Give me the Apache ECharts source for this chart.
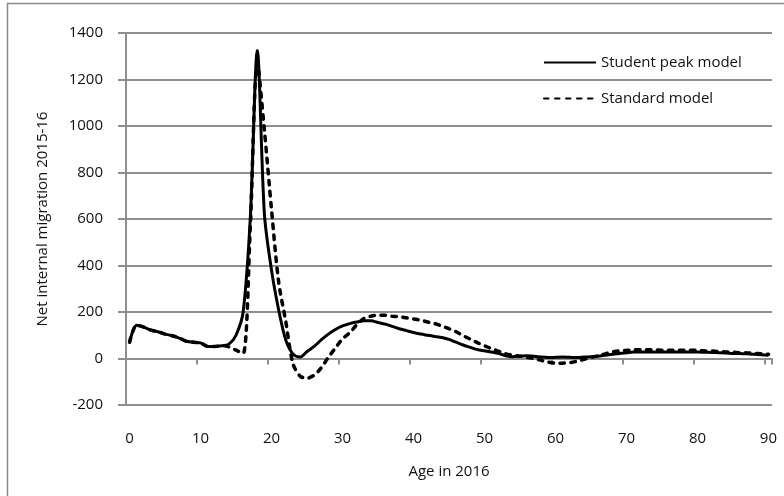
<!DOCTYPE html>
<html>
<head>
<meta charset="utf-8">
<script src="https://cdn.jsdelivr.net/npm/echarts@6/dist/echarts.min.js"></script>
<style>
  html, body { margin: 0; padding: 0; background: #fff; }
  #chart { width: 784px; height: 496px; }
</style>
</head>
<body>
<div id="chart"></div>
<script>
// ages 0..90
var ages = [];
for (var a = 0; a <= 90; a++) ages.push(String(a));

// net internal migration
var studentPeak = [
  70, 143, 135, 122, 115, 105, 98, 88, 74, 70,
  67, 52, 52, 55, 62, 100, 200, 600, 1325, 620,
  380, 210, 80, 20, 6, 30, 52, 80, 105, 125,
  140, 150, 157, 162, 162, 155, 148, 138, 128, 120,
  112, 105, 100, 95, 90, 82, 70, 58, 48, 38,
  33, 28, 22, 12, 8, 10, 12, 10, 6, 4,
  5, 6, 5, 4, 6, 8, 10, 14, 18, 22,
  25, 28, 28, 28, 28, 28, 28, 28, 28, 28,
  28, 27, 26, 25, 24, 22, 21, 20, 18, 16,
  14
];
var standard = [
  70, 143, 135, 122, 115, 105, 98, 88, 74, 70,
  67, 52, 52, 55, 50, 36, 22, 560, 1270, 980,
  640, 330, 160, -20, -75, -85, -72, -40, 5, 45,
  85, 110, 145, 172, 182, 186, 186, 182, 180, 175,
  170, 165, 157, 150, 140, 128, 115, 98, 83, 68,
  55, 42, 31, 20, 14, 10, 5, 0, -8, -16,
  -20, -20, -18, -12, -4, 4, 12, 20, 28, 33,
  35, 37, 38, 38, 37, 36, 35, 35, 35, 35,
  35, 33, 32, 30, 28, 27, 25, 24, 22, 20,
  18
];

var font = 'Open Sans';
var gridColor = '#8f8f8f';

var chart = echarts.init(document.getElementById('chart'), null, {renderer: 'canvas'});
chart.setOption({
  animation: false,
  backgroundColor: '#fff',
  textStyle: {fontFamily: font, color: '#111'},
  graphic: [{
    type: 'rect',
    shape: {x: 7.5, y: 3.5, width: 800, height: 600},
    style: {fill: null, stroke: '#8a8a8a', lineWidth: 1.5},
    silent: true
  }],
  grid: {left: 126, right: 12, top: 33, bottom: 91, containLabel: false, outerBoundsMode: 'none'},
  legend: {
    orient: 'vertical',
    left: 538,
    top: 50,
    itemWidth: 52,
    itemHeight: 14,
    itemGap: 21,
    itemStyle: {opacity: 0, borderWidth: 0},
    textStyle: {fontFamily: font, fontSize: 15, color: '#111'},
    data: ['Student peak model', 'Standard model']
  },
  xAxis: {
    type: 'category',
    data: ages,
    boundaryGap: true,
    name: 'Age in 2016',
    nameLocation: 'middle',
    nameGap: 59,
    nameTextStyle: {fontFamily: font, fontSize: 15, color: '#111'},
    axisLine: {onZero: true, lineStyle: {color: gridColor, width: 2}},
    axisTick: {show: true, interval: 9, length: 6, lineStyle: {color: gridColor, width: 2}},
    axisLabel: {interval: 9, margin: 26, fontFamily: font, fontSize: 15, color: '#111'},
    splitLine: {show: false}
  },
  yAxis: {
    type: 'value',
    min: -200,
    max: 1400,
    interval: 200,
    name: 'Net internal migration 2015-16',
    nameLocation: 'middle',
    nameGap: 76,
    nameTextStyle: {fontFamily: font, fontSize: 15, color: '#111'},
    axisLine: {show: true, lineStyle: {color: gridColor, width: 2}},
    axisTick: {show: true, length: 8, lineStyle: {color: gridColor, width: 2}},
    axisLabel: {
      margin: 23, fontFamily: font, fontSize: 15, color: '#111',
      formatter: function (v) { return String(v); }
    },
    splitLine: {show: true, lineStyle: {color: gridColor, width: 2}}
  },
  series: [{
    name: 'Student peak model',
    type: 'line',
    data: studentPeak,
    symbol: 'none',
    showSymbol: false,
    smooth: 0.3,
    lineStyle: {color: '#000', width: 3},
    itemStyle: {color: '#000'},
    z: 3
  }, {
    name: 'Standard model',
    type: 'line',
    data: standard,
    symbol: 'none',
    showSymbol: false,
    smooth: 0.3,
    lineStyle: {color: '#000', width: 3.5, type: [4.5, 6.5], cap: 'round'},
    itemStyle: {color: '#000'},
    z: 2
  }]
});
</script>
</body>
</html>
